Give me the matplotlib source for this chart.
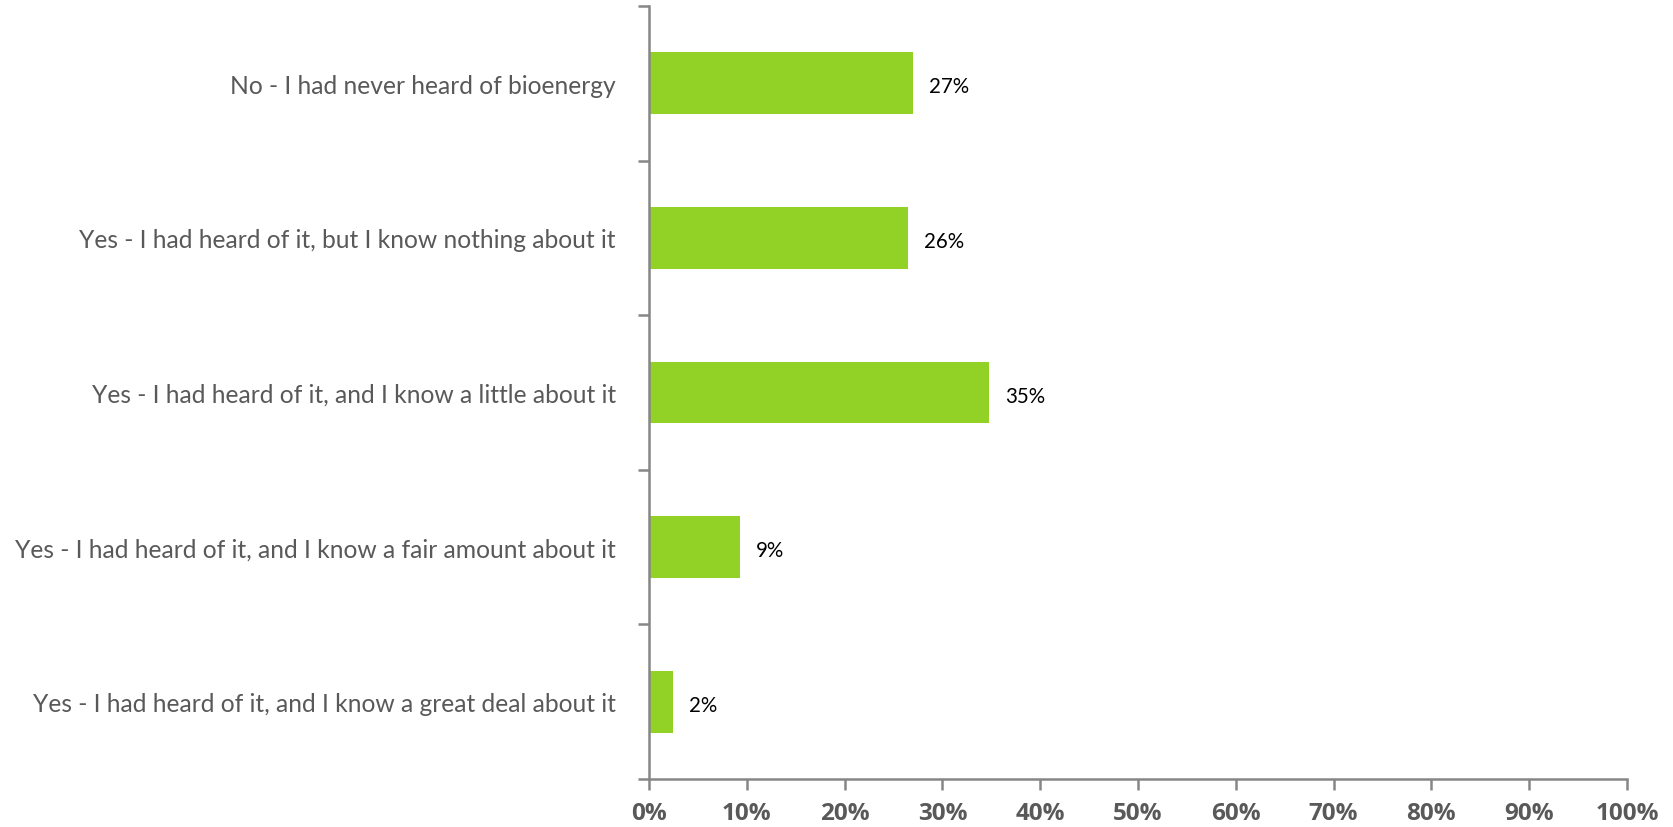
import matplotlib
matplotlib.use("Agg")
import matplotlib.pyplot as plt
from matplotlib.ticker import FixedLocator

categories = [
    "No - I had never heard of bioenergy",
    "Yes - I had heard of it, but I know nothing about it",
    "Yes - I had heard of it, and I know a little about it",
    "Yes - I had heard of it, and I know a fair amount about it",
    "Yes - I had heard of it, and I know a great deal about it",
]
values = [27.0, 26.5, 34.8, 9.3, 2.5]
value_labels = ["27%", "26%", "35%", "9%", "2%"]
xticks = [0, 10, 20, 30, 40, 50, 60, 70, 80, 90, 100]
xtick_labels = [f"{t}%" for t in xticks]

plt.rcParams['font.family'] = ['Lato', 'DejaVu Sans']

fig = plt.figure(figsize=(16.74, 8.28), dpi=100)
ax = fig.add_axes([649/1674, 1-780/828, (1627-649)/1674, (780-7)/828])

n = len(categories)
ypos = list(range(n))
ax.barh(ypos, values, height=0.4, color="#92D125", edgecolor="none")
ax.set_ylim(n - 0.5, -0.5)
ax.set_xlim(0, 100)

for y, v, lab in zip(ypos, values, value_labels):
    ax.text(v + 1.6, y + 0.02, lab, va="center", ha="left", fontsize=14.8, color="black")

ax.set_yticks(ypos)
ax.set_yticklabels(categories, fontsize=17.7, color="#595959")
ax.tick_params(axis="y", which="major", length=0, pad=24)
ax.yaxis.set_minor_locator(FixedLocator([i - 0.5 for i in range(n + 1)]))
ax.tick_params(axis="y", which="minor", length=8, width=1.8, color="#868686", direction="out")

ax.set_xticks(xticks)
ax.set_xticklabels(xtick_labels, fontsize=17.5, fontweight="bold", color="#595959",
                   family=["Open Sans", "DejaVu Sans"])
ax.tick_params(axis="x", which="major", length=8, width=1.8, color="#868686", direction="out", pad=8)

for s in ["top", "right"]:
    ax.spines[s].set_visible(False)
for s in ["left", "bottom"]:
    ax.spines[s].set_color("#868686")
    ax.spines[s].set_linewidth(1.8)

fig.savefig("out.png", dpi=100, facecolor="white")
